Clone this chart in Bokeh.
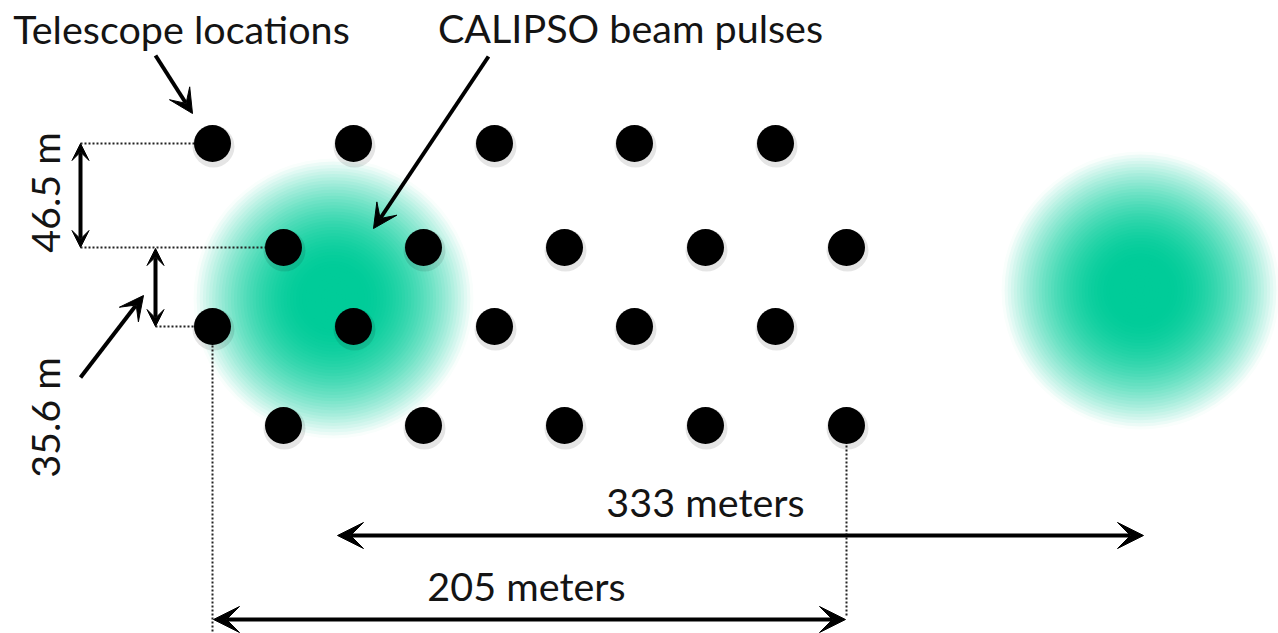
import numpy as np
from bokeh.plotting import figure
from bokeh.models import Range1d, Arrow, VeeHead, ColumnDataSource
from bokeh.embed import file_html
from bokeh.resources import INLINE
from bokeh.core.properties import value

# ---------------- data (diagram units) ----------------
telescope_x = [212, 353, 494, 634, 775,
               283, 423, 564, 705, 846,
               212, 353, 494, 634, 775,
               283, 423, 564, 705, 846]
telescope_y = [143, 143, 143, 143, 143,
               247, 247, 247, 247, 247,
               326, 326, 326, 326, 326,
               425, 425, 425, 425, 425]

beam_x = [333, 1140]
beam_y = [298, 290]
beam_r = [140, 139]

label_text = ["Telescope locations", "CALIPSO beam pulses", "333 meters", "205 meters"]
label_x = [181, 630, 705, 526]
label_y = [28, 27, 501, 585]

dim_text = ["46.5 m", "35.6 m"]
dim_x = [44, 44]
dim_y = [192, 417]

# dimension arrows: (x0, y0, x1, y1)
dim_arrows = [(80, 143, 80, 247), (155, 248, 155, 326),
              (337, 535, 1143, 535), (213, 619, 845, 619)]
# pointer arrows: (x_tail, y_tail, x_tip, y_tip)
pointer_arrows = [(155, 55, 192, 113), (488, 56, 373, 228), (80, 377, 143, 295)]
# dotted guide lines
guide_x0 = [80, 80, 155, 212, 846]
guide_y0 = [143, 247, 326, 345, 445]
guide_x1 = [195, 267, 193, 212, 846]
guide_y1 = [143, 247, 326, 633, 617]

# ---------------- figure ----------------
p = figure(width=1278, height=633, x_range=Range1d(0, 1278), y_range=Range1d(633, 0),
           x_axis_type=None, y_axis_type=None, toolbar_location=None,
           output_backend="svg", min_border=0)
p.grid.visible = False
p.outline_line_color = None
p.background_fill_color = "white"
p.border_fill_color = "white"

# radial-gradient beams (stack of opaque rings)
green = np.array([0, 204, 153])
white = np.array([255, 255, 255])
N = 45
cx, cy, cr, cc = [], [], [], []
for bx, by, br in zip(beam_x, beam_y, beam_r):
    for k in range(N):
        r = br * (N - k) / N
        t = (r - br / (2 * N)) / br
        if t <= 0.2:
            a = 1.0
        else:
            a = max(0.0, 1 - ((t - 0.2) / 0.8) ** 1.8)
        c = (white * (1 - a) + green * a).round().astype(int)
        cx.append(bx); cy.append(by); cr.append(r)
        cc.append("#%02x%02x%02x" % tuple(c))
p.circle(cx, cy, radius=cr, fill_color=cc, line_color=None)

# dotted guides
p.segment(guide_x0, guide_y0, guide_x1, guide_y1, line_color="#222222",
          line_width=2, line_dash="2 2")

# telescopes (soft shadow + dot)
p.scatter([x + 1 for x in telescope_x], [y + 3 for y in telescope_y], size=42,
          fill_color="black", fill_alpha=0.10, line_color=None)
p.scatter(telescope_x, telescope_y, size=37, fill_color="black", line_color=None)

# arrows
for (x0, y0, x1, y1) in dim_arrows:
    hs = 26 if y0 == y1 else 17
    p.add_layout(Arrow(x_start=x0, y_start=y0, x_end=x1, y_end=y1, line_width=4,
                       line_color="black",
                       start=VeeHead(size=hs, fill_color="black", line_color="black", line_width=1),
                       end=VeeHead(size=hs, fill_color="black", line_color="black", line_width=1)))
for (x0, y0, x1, y1) in pointer_arrows:
    p.add_layout(Arrow(x_start=x0, y_start=y0, x_end=x1, y_end=y1, line_width=4,
                       line_color="black",
                       end=VeeHead(size=24, fill_color="black", line_color="black", line_width=1)))

# texts
src = ColumnDataSource(dict(x=label_x, y=label_y, t=label_text))
p.text("x", "y", text="t", source=src, text_font=value("Lato"), text_font_size="39.5px",
       text_align="center", text_baseline="alphabetic", text_color="#141414")
src2 = ColumnDataSource(dict(x=dim_x, y=dim_y, t=dim_text))
p.text("x", "y", text="t", source=src2, angle=np.pi / 2, text_font=value("Lato"),
       text_font_size="39.5px", text_align="center", text_baseline="middle",
       text_color="#141414")

open("out.html", "w").write(file_html(p, INLINE))
